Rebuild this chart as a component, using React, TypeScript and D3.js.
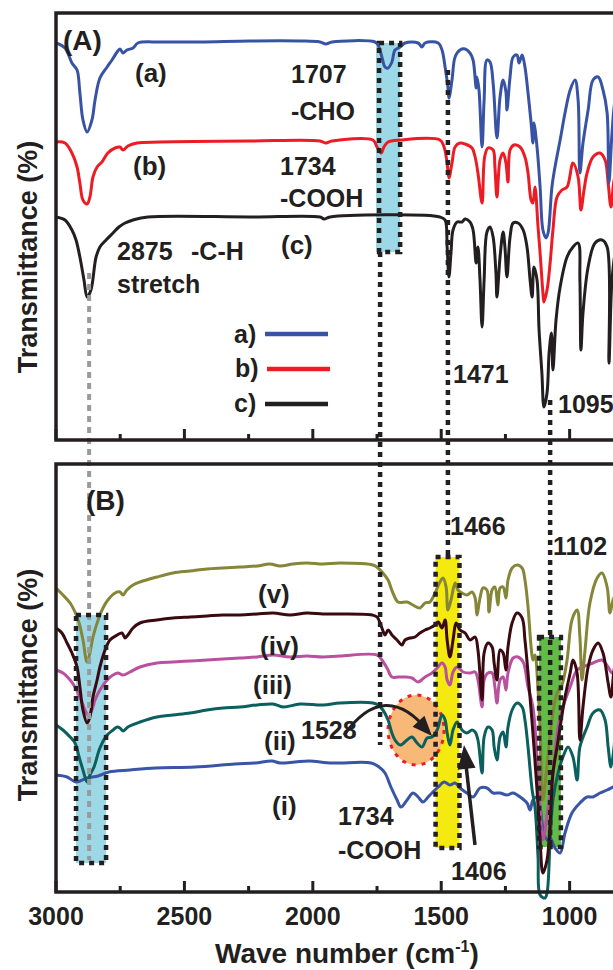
import React from 'react';
import * as d3 from 'd3';

type Pt = [number, number];

// Panel A spectra: [wavenumber cm-1, transmittance (a.u., stacked)]
const specA_a: Pt[] = [[3000,397],[2965,392],[2938,377],[2918,370],[2907,347],[2895,320],[2879,308],[2860,320],[2848,340],[2829,362],[2801,373],[2782,380],[2762,388],[2751,391],[2739,387],[2724,390],[2700,392],[2681,397],[2595,398],[2439,398],[2245,399],[2050,399],[1972,398],[1949,396],[1925,398],[1758,398],[1746,395],[1731,383],[1719,373],[1707,372],[1692,378],[1680,390],[1660,393],[1641,397],[1590,397],[1575,393],[1563,397],[1512,397],[1497,390],[1485,373],[1474,353],[1470,342],[1458,360],[1446,383],[1427,390],[1407,391],[1388,387],[1376,380],[1364,352],[1361,363],[1353,350],[1341,293],[1333,340],[1322,380],[1310,378],[1298,357],[1283,302],[1271,343],[1259,360],[1248,348],[1244,330],[1232,363],[1220,383],[1205,385],[1197,377],[1185,385],[1174,373],[1162,347],[1150,317],[1143,297],[1139,317],[1127,293],[1115,253],[1104,210],[1092,202],[1084,207],[1069,253],[1057,273],[1037,300],[1018,327],[998,350],[979,360],[967,340],[960,267],[948,297],[928,330],[909,360],[889,363],[870,350],[854,327],[847,257],[835,307],[823,340],[810,350]];

const specA_b: Pt[] = [[3000,298],[2965,297],[2938,287],[2918,273],[2907,257],[2895,240],[2879,236],[2868,243],[2856,263],[2840,273],[2821,278],[2798,287],[2770,292],[2751,293],[2739,290],[2720,294],[2685,297],[2595,298],[2245,299],[1972,299],[1949,297],[1925,299],[1766,300],[1750,293],[1734,287],[1723,293],[1707,298],[1660,300],[1505,300],[1489,293],[1477,277],[1470,262],[1458,277],[1446,293],[1427,297],[1407,296],[1380,292],[1368,283],[1357,267],[1341,237],[1331,283],[1318,292],[1298,290],[1291,273],[1283,243],[1271,280],[1259,287],[1248,277],[1240,258],[1232,290],[1217,295],[1193,293],[1174,283],[1162,267],[1150,240],[1143,237],[1135,253],[1123,213],[1115,187],[1104,147],[1100,138],[1088,150],[1076,177],[1065,210],[1049,243],[1030,250],[1010,253],[987,277],[967,263],[956,230],[944,250],[932,267],[909,283],[882,287],[862,280],[850,257],[839,233],[827,260],[810,275]];

const specA_c: Pt[] = [[3000,223],[2965,220],[2938,210],[2922,200],[2907,183],[2891,160],[2879,143],[2864,150],[2844,183],[2829,193],[2805,200],[2778,207],[2755,213],[2731,217],[2700,220],[2642,223],[2245,223],[1972,223],[1956,221],[1933,223],[1505,223],[1485,220],[1477,193],[1470,163],[1462,187],[1454,210],[1438,218],[1419,218],[1407,221],[1388,218],[1376,210],[1364,177],[1357,193],[1349,160],[1341,113],[1333,160],[1322,208],[1310,213],[1298,203],[1287,167],[1283,143],[1271,183],[1259,208],[1252,193],[1244,163],[1232,203],[1220,217],[1201,217],[1181,210],[1166,193],[1154,160],[1146,143],[1139,173],[1127,160],[1119,110],[1108,67],[1100,33],[1088,47],[1080,87],[1071,107],[1065,70],[1053,120],[1037,153],[1010,183],[987,193],[967,197],[960,160],[956,90],[948,127],[928,173],[901,197],[874,200],[854,193],[847,77],[835,160],[820,190],[810,195]];

// Panel B spectra
const specB_v: Pt[] = [[3000,304],[2973,297],[2945,289],[2926,280],[2910,269],[2895,252],[2879,230],[2868,239],[2856,255],[2836,272],[2817,284],[2798,292],[2770,299],[2751,300],[2739,297],[2724,302],[2700,307],[2673,310],[2607,315],[2544,319],[2478,321],[2412,323],[2350,324],[2284,325],[2217,326],[2167,328],[2128,326],[2077,328],[2023,329],[1960,328],[1894,329],[1766,327],[1746,324],[1727,319],[1707,312],[1688,299],[1668,290],[1633,290],[1610,287],[1583,284],[1563,289],[1544,290],[1524,299],[1505,310],[1493,314],[1481,305],[1474,282],[1462,292],[1446,309],[1435,302],[1419,299],[1400,297],[1380,300],[1368,294],[1361,277],[1349,294],[1337,304],[1322,302],[1314,280],[1302,302],[1291,305],[1279,287],[1271,304],[1259,305],[1248,294],[1240,312],[1224,324],[1205,327],[1185,324],[1174,312],[1162,285],[1150,245],[1143,232],[1135,237],[1123,202],[1115,162],[1104,92],[1092,117],[1080,147],[1069,172],[1049,199],[1030,207],[1010,232],[991,272],[971,282],[960,255],[952,212],[940,242],[921,289],[893,314],[874,319],[854,305],[843,279],[831,292],[815,300]];

const specB_iv: Pt[] = [[3000,264],[2977,259],[2957,249],[2938,239],[2918,225],[2907,205],[2895,182],[2879,169],[2868,175],[2856,195],[2840,212],[2829,225],[2809,242],[2790,252],[2762,257],[2743,259],[2731,254],[2720,257],[2700,264],[2673,269],[2607,272],[2544,274],[2478,275],[2412,276],[2350,277],[2284,277],[2217,278],[2155,279],[2089,277],[2023,279],[1960,278],[1894,278],[1769,277],[1750,275],[1731,264],[1719,257],[1707,262],[1692,257],[1672,252],[1653,247],[1641,252],[1622,254],[1602,255],[1583,259],[1563,262],[1544,264],[1524,267],[1512,270],[1497,264],[1485,272],[1477,252],[1466,235],[1454,252],[1442,269],[1427,262],[1407,259],[1388,252],[1368,255],[1357,242],[1341,192],[1333,239],[1318,249],[1302,245],[1294,229],[1283,212],[1271,242],[1259,239],[1248,222],[1240,245],[1224,269],[1205,279],[1185,274],[1174,252],[1162,219],[1146,169],[1127,102],[1115,52],[1104,19],[1088,32],[1076,69],[1065,119],[1049,145],[1037,165],[1018,195],[998,219],[987,232],[971,219],[960,152],[948,185],[928,225],[909,242],[889,249],[870,239],[850,209],[839,195],[827,222],[815,235]];

const specB_iii: Pt[] = [[3000,222],[2973,219],[2945,212],[2926,205],[2907,195],[2887,182],[2875,177],[2860,182],[2848,192],[2829,202],[2801,212],[2778,217],[2759,219],[2739,217],[2712,220],[2673,225],[2607,229],[2544,230],[2478,231],[2412,232],[2350,233],[2284,234],[2217,235],[2155,237],[2089,235],[2023,236],[1960,235],[1894,236],[1750,237],[1731,232],[1711,224],[1692,215],[1668,215],[1641,215],[1614,214],[1590,210],[1563,215],[1536,219],[1516,224],[1497,229],[1485,225],[1477,212],[1466,207],[1454,220],[1438,225],[1415,220],[1388,219],[1368,220],[1357,212],[1341,185],[1333,212],[1318,219],[1302,219],[1291,205],[1283,189],[1271,212],[1259,215],[1248,202],[1240,219],[1220,234],[1201,235],[1181,230],[1162,205],[1143,185],[1127,135],[1115,85],[1104,52],[1084,85],[1065,119],[1045,165],[1026,185],[998,205],[971,222],[948,225],[909,229],[874,232],[850,225],[835,219],[815,222]];

const specB_ii: Pt[] = [[3000,167],[2973,162],[2945,155],[2926,149],[2910,135],[2895,122],[2879,110],[2868,117],[2852,125],[2829,144],[2801,157],[2778,162],[2762,165],[2751,164],[2739,161],[2720,165],[2673,170],[2607,175],[2544,177],[2478,179],[2412,182],[2350,184],[2284,185],[2217,187],[2155,188],[2116,185],[2050,188],[1960,187],[1894,189],[1766,189],[1746,187],[1727,182],[1707,172],[1692,159],[1680,152],[1660,147],[1633,152],[1614,155],[1594,149],[1575,145],[1555,154],[1536,155],[1516,162],[1497,177],[1485,172],[1477,159],[1466,147],[1454,162],[1438,170],[1419,162],[1400,159],[1380,162],[1368,160],[1357,152],[1341,119],[1333,155],[1318,165],[1302,162],[1294,145],[1283,132],[1271,155],[1259,160],[1248,145],[1240,165],[1224,182],[1205,189],[1185,185],[1174,172],[1162,145],[1146,102],[1135,85],[1123,35],[1115,-3],[1096,-6],[1088,-1],[1076,52],[1065,92],[1045,119],[1026,135],[1006,145],[987,135],[971,112],[960,145],[932,165],[909,179],[882,182],[862,172],[850,145],[839,125],[825,150]];

const specB_i: Pt[] = [[3000,117],[2957,115],[2922,110],[2879,114],[2836,116],[2794,120],[2712,122],[2611,124],[2459,125],[2303,128],[2225,129],[2159,131],[2128,129],[2069,130],[2015,131],[1925,129],[1773,129],[1742,125],[1719,119],[1696,105],[1672,92],[1657,85],[1633,92],[1610,99],[1590,95],[1571,90],[1551,95],[1536,99],[1512,105],[1489,110],[1466,107],[1446,109],[1427,104],[1400,99],[1376,95],[1349,104],[1322,104],[1298,99],[1271,99],[1244,97],[1220,99],[1193,95],[1166,89],[1154,82],[1143,92],[1127,95],[1115,85],[1104,64],[1088,52],[1076,54],[1057,44],[1037,39],[1018,59],[991,79],[960,89],[932,95],[909,95],[882,99],[854,102],[831,105],[815,107]];

const majorTicks = [3000, 2500, 2000, 1500, 1000];
const minorTicks = [2750, 2250, 1750, 1250];
const tickLabels = ['3000', '2500', '2000', '1500', '1000'];

// Reference bands (wavenumber extents) and markers
const bandA = { w0: 1754, w1: 1660, v0: 397, v1: 188 };
const boxA = { w0: 1742, w1: 1660, v0: 397, v1: 188 };
const boxesB = [
  { w0: 2922, w1: 2805, v0: 277, v1: 29, fill: '#9dd8e6' },
  { w0: 1522, w1: 1429, v0: 335, v1: 44, fill: '#f4ea10' },
  { w0: 1119, w1: 1034, v0: 255, v1: 45, fill: '#62bb46' },
];
const highlight = { w: 1598, v: 162 };

const FONT = '"Liberation Sans", Arial, Helvetica, sans-serif';
const INK = '#231f20';

export default function App() {
  const x = d3.scaleLinear().domain([3000, 800]).range([56, 621]);
  const yA = d3.scaleLinear().domain([0, 427]).range([440, 13]);
  const yB = d3.scaleLinear().domain([0, 428]).range([892, 464]);
  const lineA = d3.line<Pt>().x(d => x(d[0])).y(d => yA(d[1])).curve(d3.curveCatmullRom.alpha(0.5));
  const lineB = d3.line<Pt>().x(d => x(d[0])).y(d => yB(d[1])).curve(d3.curveCatmullRom.alpha(0.5));

  const dot = { stroke: INK, strokeWidth: 4.5, strokeDasharray: '5 5', fill: 'none' } as const;

  const txt = (s: string, px: number, py: number, fs = 25, key?: string) => (
    <text key={key ?? s + px + py} x={px} y={py} fontFamily={FONT} fontWeight="bold" fontSize={fs} fill={INK}>{s}</text>
  );

  const axis = (yb: number, labels: boolean) => (
    <g>
      {majorTicks.map(t => <line key={'M' + t} x1={x(t)} x2={x(t)} y1={yb} y2={yb - 11} stroke={INK} strokeWidth={3} />)}
      {minorTicks.map(t => <line key={'m' + t} x1={x(t)} x2={x(t)} y1={yb} y2={yb - 6} stroke={INK} strokeWidth={3} />)}
      {labels && majorTicks.map((t, i) => (
        <text key={'l' + t} x={x(t)} y={925} textAnchor="middle" fontFamily={FONT} fontWeight="bold" fontSize={25} fill={INK}>{tickLabels[i]}</text>
      ))}
    </g>
  );

  const arrowHead = (tx: number, ty: number, fx: number, fy: number, len = 18, hw = 7) => {
    const dx = tx - fx, dy = ty - fy, L = Math.hypot(dx, dy);
    const ux = dx / L, uy = dy / L;
    const bx = tx - ux * len, by = ty - uy * len;
    return `M${tx},${ty}L${bx - uy * hw},${by + ux * hw}L${bx + uy * hw},${by - ux * hw}Z`;
  };

  return (
    <div style={{ position: 'absolute', left: 0, top: 0 }}>
      <svg width={613} height={970} style={{ display: 'block', background: '#fff' }}>
        {/* Panel A */}
        <rect x={x(bandA.w0)} y={yA(bandA.v0)} width={x(bandA.w1) - x(bandA.w0)} height={yA(bandA.v1) - yA(bandA.v0)} fill="#9dd8e6" />
        <path d={lineA(specA_c)!} fill="none" stroke="#231f20" strokeWidth={3} />
        <path d={lineA(specA_b)!} fill="none" stroke="#ed1c24" strokeWidth={3} />
        <path d={lineA(specA_a)!} fill="none" stroke="#3953a4" strokeWidth={3} />

        {/* Panel B fills */}
        {boxesB.map((b, i) => (
          <rect key={'f' + i} x={x(b.w0)} y={yB(b.v0)} width={x(b.w1) - x(b.w0)} height={yB(b.v1) - yB(b.v0)} fill={b.fill} />
        ))}
        <ellipse cx={x(highlight.w)} cy={yB(highlight.v)} rx={28} ry={35} fill="#f8b878" stroke="#ed1c24" strokeWidth={3} strokeDasharray="4 6" />
        <path d={lineB(specB_i)!} fill="none" stroke="#3a55a6" strokeWidth={3} />
        <path d={lineB(specB_ii)!} fill="none" stroke="#0b5f5c" strokeWidth={3} />
        <path d={lineB(specB_iii)!} fill="none" stroke="#b9519f" strokeWidth={3} />
        <path d={lineB(specB_v)!} fill="none" stroke="#858638" strokeWidth={3} />
        <path d={lineB(specB_iv)!} fill="none" stroke="#3a0a10" strokeWidth={3} />

        {/* dotted guides */}
        <rect x={x(boxA.w0)} y={yA(boxA.v0)} width={x(boxA.w1) - x(boxA.w0)} height={yA(boxA.v1) - yA(boxA.v0)} {...dot} />
        <line x1={x(1738)} x2={x(1738)} y1={yA(188)} y2={yB(147)} {...dot} />
        <line x1={x(1474)} x2={x(1474)} y1={yA(370)} y2={yB(335)} {...dot} />
        <line x1={x(1076)} x2={x(1076)} y1={yA(40)} y2={yB(45)} {...dot} />
        <line x1={x(2871)} x2={x(2871)} y1={yA(167)} y2={yB(32)} stroke="#9a9a9a" strokeWidth={4} strokeDasharray="6 5" />
        {boxesB.map((b, i) => (
          <rect key={'d' + i} x={x(b.w0)} y={yB(b.v0)} width={x(b.w1) - x(b.w0)} height={yB(b.v1) - yB(b.v0)} {...dot} />
        ))}

        {/* arrows */}
        <path d="M344,735 Q385,678 428,731" fill="none" stroke={INK} strokeWidth={3} />
        <path d={arrowHead(432, 736, 410, 712, 20, 8)} fill={INK} />
        <line x1={475} y1={845} x2={466} y2={765} stroke={INK} strokeWidth={3.5} />
        <path d={arrowHead(464, 745, 475, 845, 24, 9)} fill={INK} />

        {/* frames */}
        <path d="M613,13 L56,13 L56,440 L613,440" fill="none" stroke={INK} strokeWidth={3.5} />
        <path d="M613,464 L56,464 L56,892 L613,892" fill="none" stroke={INK} strokeWidth={3.5} />
        {axis(440, false)}
        {axis(892, true)}

        {/* Panel A labels */}
        {txt('(A)', 63, 50, 28)}
        {txt('(a)', 135, 82, 26)}
        {txt('(b)', 133, 175, 26)}
        {txt('(c)', 281, 254, 26)}
        {txt('1707', 291, 83)}
        {txt('-CHO', 291, 120)}
        {txt('1734', 280, 175)}
        {txt('-COOH', 280, 207)}
        {txt('2875', 117, 260)}
        {txt('-C-H', 191, 260)}
        {txt('stretch', 117, 293)}
        {txt('a)', 234, 343)}
        {txt('b)', 235, 377)}
        {txt('c)', 234, 412)}
        <line x1={265} x2={328} y1={334} y2={334} stroke="#3953a4" strokeWidth={4.5} />
        <line x1={267} x2={330} y1={369} y2={369} stroke="#ed1c24" strokeWidth={4.5} />
        <line x1={265} x2={328} y1={404} y2={404} stroke="#231f20" strokeWidth={4.5} />
        {txt('1471', 453, 383)}
        {txt('1095', 558, 413)}

        {/* Panel B labels */}
        {txt('(B)', 86, 510, 28)}
        {txt('1466', 450, 535)}
        {txt('1102', 553, 555)}
        {txt('(v)', 258, 603, 26)}
        {txt('(iv)', 260, 655, 26)}
        {txt('(iii)', 253, 694, 26)}
        {txt('(ii)', 264, 750, 26)}
        {txt('1528', 301, 739)}
        {txt('(i)', 272, 815, 26)}
        {txt('1734', 338, 825)}
        {txt('-COOH', 338, 859)}
        {txt('1406', 451, 880)}

        {/* Axis titles */}
        <text transform="translate(37,257) rotate(-90)" textAnchor="middle" fontFamily={FONT} fontWeight="bold" fontSize={27} fill={INK}>Transmittance (%)</text>
        <text transform="translate(37,685) rotate(-90)" textAnchor="middle" fontFamily={FONT} fontWeight="bold" fontSize={27} fill={INK}>Transmittance (%)</text>
        <text x={215} y={963} fontFamily={FONT} fontWeight="bold" fontSize={28} fill={INK}>
          Wave number (cm<tspan dy={-11} fontSize={16}>-1</tspan><tspan dy={11}>)</tspan>
        </text>
      </svg>
    </div>
  );
}
